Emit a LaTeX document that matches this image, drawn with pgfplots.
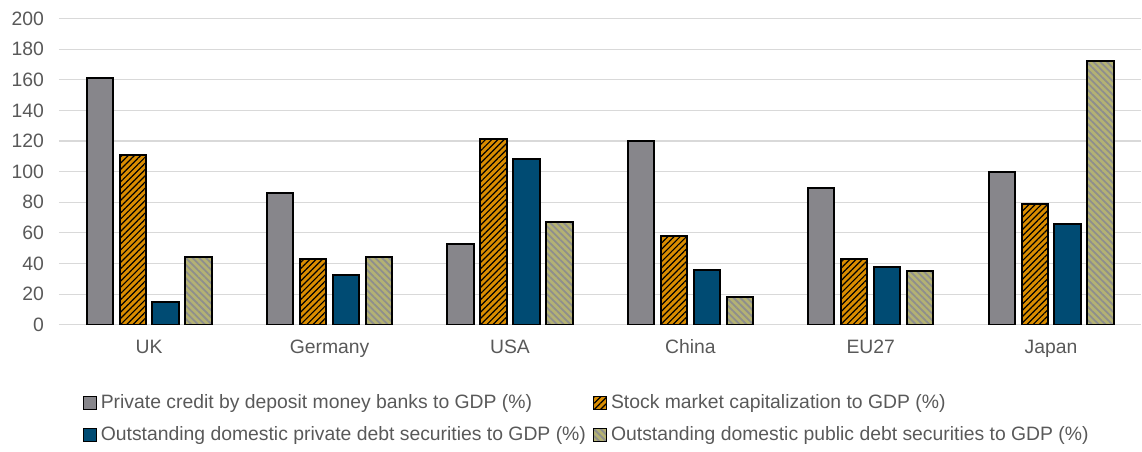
\documentclass[border=0pt]{standalone}
\usepackage{fontspec}
\setmainfont{Liberation Sans}
\usepackage{pgfplots}
\pgfplotsset{compat=1.18}
\usetikzlibrary{patterns.meta}

\definecolor{bargray}{HTML}{87868B}
\definecolor{barorange}{HTML}{DA8D00}
\definecolor{barblue}{HTML}{004B73}
\definecolor{barolive}{HTML}{B4B273}
\definecolor{hatchgray}{HTML}{8E8E8E}
\definecolor{gridgray}{HTML}{D9D9D9}
\definecolor{textgray}{HTML}{595959}

\begin{document}
\begin{tikzpicture}
\begin{axis}[
  width=542.5pt, height=153.5pt, scale only axis,
  ymin=0, ymax=200, ytick={0,20,...,200},
  xmin=-0.5, xmax=5.5, xtick={0,...,5},
  xticklabels={UK,Germany,USA,China,EU27,Japan},
  axis x line=bottom, axis y line=left,
  axis line style={-},
  x axis line style={draw=gridgray, line width=0.7pt},
  y axis line style={draw=none},
  ymajorgrids, grid style={gridgray, line width=0.6pt},
  major tick length=0pt,
  /pgf/number format/assume math mode=true,
  tick label style={font=\fontsize{9.7}{11.5}\selectfont, text=textgray},
  yticklabel style={xshift=-4pt},
  xticklabel style={yshift=-4pt},
  bar width=0.146,
  legend columns=2,
  legend cell align=left,
  legend style={draw=none, fill=none, font=\fontsize{9.7}{11.5}\selectfont,
    text=textgray, at={(axis description cs:0.016,-0.2)}, anchor=north west,
    row sep=3.5pt, /tikz/every even column/.append style={column sep=1.5pt}},
  legend image code/.code={\draw[#1, line width=0.6pt] (0pt,-3.2pt) rectangle (6.5pt,3.2pt);},
]
\addplot[ybar, bar shift=-0.274, fill=bargray, draw=black, line width=1pt]
  coordinates {(0,161) (1,86) (2,53) (3,120) (4,89) (5,100)};
\addlegendentry{Private credit by deposit money banks to GDP (\%)}
\addplot[ybar, bar shift=-0.091, fill=barorange, draw=black, line width=1pt,
  postaction={pattern={Lines[angle=45,distance=2.2pt,line width=0.6pt]}, pattern color=black}]
  coordinates {(0,111) (1,43) (2,121) (3,58) (4,43) (5,79)};
\addlegendentry{Stock market capitalization to GDP (\%)}
\addplot[ybar, bar shift=0.091, fill=barblue, draw=black, line width=1pt]
  coordinates {(0,15) (1,32.5) (2,108) (3,36) (4,38) (5,66)};
\addlegendentry{Outstanding domestic private debt securities to GDP (\%)}
\addplot[ybar, bar shift=0.274, fill=barolive, draw=black, line width=1pt,
  postaction={pattern={Lines[angle=-45,distance=2.4pt,line width=0.9pt]}, pattern color=hatchgray}]
  coordinates {(0,44) (1,44) (2,67) (3,18) (4,35) (5,172)};
\addlegendentry{Outstanding domestic public debt securities to GDP (\%)}
\end{axis}
% small margins so the layout matches the reference
\path (current bounding box.north west) ++(-2.5pt,2.5pt);
\end{tikzpicture}
\end{document}
